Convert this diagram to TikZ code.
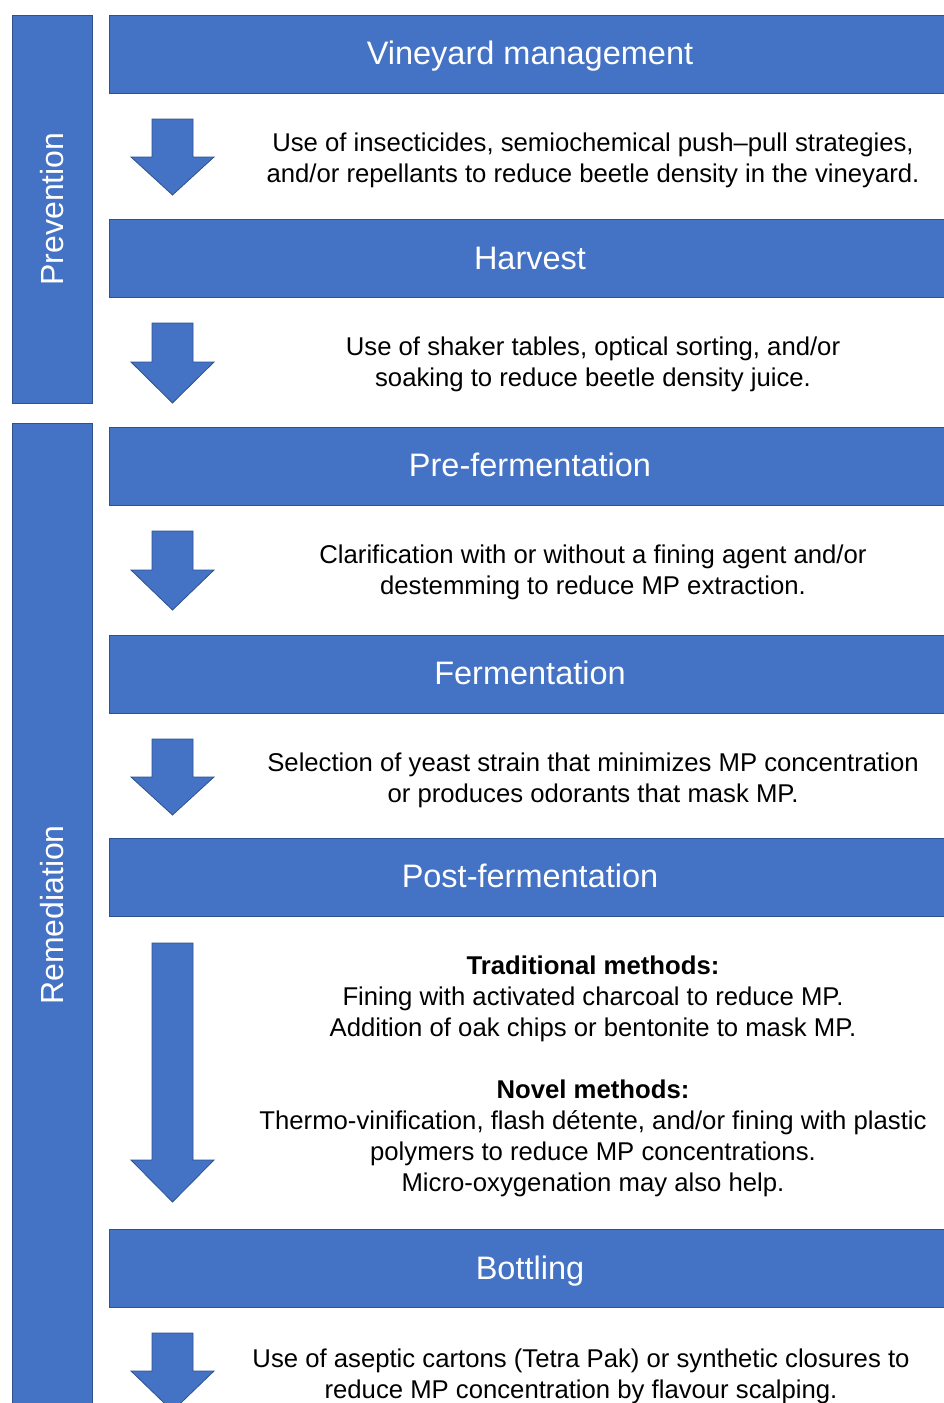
\documentclass[tikz,border=0pt]{standalone}
\usepackage{fontspec}
\setmainfont{Liberation Sans}
\usetikzlibrary{positioning}
\definecolor{boxblue}{HTML}{4472C4}
\definecolor{edgeblue}{HTML}{2F528F}

\begin{document}
\begin{tikzpicture}[x=1pt, y=-1pt,
    band/.style={draw=edgeblue, fill=boxblue, line width=0.8pt},
    stage/.style={band, minimum width=842pt, minimum height=78pt, inner sep=0pt,
      text height=28pt, text depth=6.8pt,
      text=white, font=\fontsize{32.5}{38}\selectfont},
    phase/.style={band, rotate=90, minimum height=80pt, inner sep=0pt,
      text=white, font=\fontsize{32}{38}\selectfont},
    note/.style={align=center, inner sep=0pt, font=\fontsize{25.7}{31}\selectfont}]

  \useasboundingbox (0,0) rectangle (944,1403);
  \clip (0,0) rectangle (944,1403);

  % phases on the left
  \node[phase, minimum width=388pt] (prev) at (52,209) {Prevention};
  \node[phase, minimum width=984pt] (reme) at (52,915) {Remediation};

  % stages
  \node[stage] (vine)  at (530,54)    {Vineyard management};
  \node[stage] (harv)  at (530,258.5) {Harvest};
  \node[stage] (pref)  at (530,466)   {Pre-fermentation};
  \node[stage] (ferm)  at (530,674)   {Fermentation};
  \node[stage] (postf) at (530,877)   {Post-fermentation};
  \node[stage] (bott)  at (530,1268.5) {Bottling};

  % block arrows
  \foreach \t/\n/\e in {119/157/195, 323/362/403, 531/570/610, 739/777/815,
                        943/1160/1202, 1333/1371/1411}
    \draw[band] (152,\t) -- (193,\t) -- (193,\n) -- (214,\n) -- (172.5,\e)
      -- (131,\n) -- (152,\n) -- cycle;

  % measures
  \node[note] (n1) at (593,160) {Use of insecticides, semiochemical push–pull strategies,\\
    and/or repellants to reduce beetle density in the vineyard.};
  \node[note] (n2) at (593,364) {Use of shaker tables, optical sorting, and/or\\
    soaking to reduce beetle density juice.};
  \node[note] (n3) at (593,572) {Clarification with or without a fining agent and/or\\
    destemming to reduce MP extraction.};
  \node[note] (n4) at (593,780) {Selection of yeast strain that minimizes MP concentration\\
    or produces odorants that mask MP.};
  \node[note] (n5) at (593,1076) {\textbf{Traditional methods:}\\
    Fining with activated charcoal to reduce MP.\\
    Addition of oak chips or bentonite to mask MP.\\[31pt]
    \textbf{Novel methods:}\\
    Thermo-vinification, flash détente, and/or fining with plastic\\
    polymers to reduce MP concentrations.\\
    Micro-oxygenation may also help.};
  \node[note] (n6) at (581,1376) {Use of aseptic cartons (Tetra Pak) or synthetic closures to\\
    reduce MP concentration by flavour scalping.};
\end{tikzpicture}
\end{document}
